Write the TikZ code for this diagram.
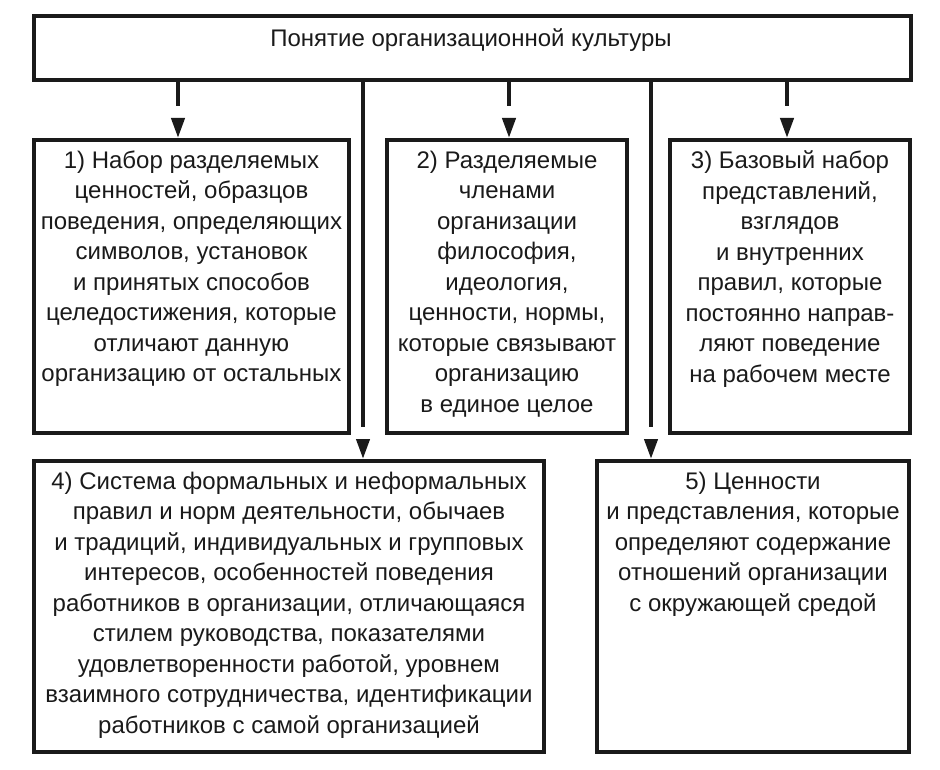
\documentclass[tikz,border=0pt]{standalone}
\usepackage{fontspec}
\setmainfont{Liberation Sans}
\usetikzlibrary{arrows.meta,calc}
\definecolor{ink}{HTML}{1A1A1A}
\begin{document}
\begin{tikzpicture}[x=1pt,y=-1pt,
  box/.style={draw=ink, line width=4pt, anchor=north west, inner sep=0pt},
  txt/.style={align=center, inner sep=0pt, anchor=north, text=ink,
    font=\fontsize{24}{30.5}\selectfont},
  shaft/.style={draw=ink, line width=4pt, shorten >=32pt},
  head/.style={draw=ink, line width=4pt, -{Triangle[length=20pt,width=13pt]}}]
\useasboundingbox (0,0) rectangle (940,770);

% boxes
\node[box, minimum width=877pt, minimum height=64pt] (top) at (32,14) {};
\node[box, minimum width=315pt, minimum height=293pt] (b1) at (32,138) {};
\node[box, minimum width=240pt, minimum height=293pt] (b2) at (385,138) {};
\node[box, minimum width=240pt, minimum height=293pt] (b3) at (668,138) {};
\node[box, minimum width=510pt, minimum height=291pt] (b4) at (32,459) {};
\node[box, minimum width=312pt, minimum height=291pt] (b5) at (595,459) {};

% texts
\node[txt, anchor=base] (topt) at (471,47) {Понятие организационной культуры};
\node[txt] (b1t) at ($(b1.north)+(0,12.5)$) {1) Набор разделяемых\\ценностей, образцов\\поведения, определяющих\\символов, установок\\и принятых способов\\целедостижения, которые\\отличают данную\\организацию от остальных};
\node[txt] (b2t) at ($(b2.north)+(0,12.5)$) {2) Разделяемые\\членами\\организации\\философия,\\идеология,\\ценности, нормы,\\которые связывают\\организацию\\в единое целое};
\node[txt] (b3t) at ($(b3.north)+(0,12.5)$) {3) Базовый набор\\представлений,\\взглядов\\и внутренних\\правил, которые\\постоянно направ-\\ляют поведение\\на рабочем месте};
\node[txt] (b4t) at ($(b4.north)+(0,12.5)$) {4) Система формальных и неформальных\\правил и норм деятельности, обычаев\\и традиций, индивидуальных и групповых\\интересов, особенностей поведения\\работников в организации, отличающаяся\\стилем руководства, показателями\\удовлетворенности работой, уровнем\\взаимного сотрудничества, идентификации\\работников с самой организацией};
\node[txt] (b5t) at ($(b5.north)+(0,12.5)$) {5) Ценности\\и представления, которые\\определяют содержание\\отношений организации\\с окружающей средой};

% connector columns
\coordinate (c1) at (178,0);
\coordinate (c2) at (509,0);
\coordinate (c3) at (787,0);
\coordinate (c4) at (363,0);
\coordinate (c5) at (651,0);

\foreach \c/\b in {c1/b1, c2/b2, c3/b3, c4/b4, c5/b5}{
  \draw[shaft] (\c |- top.south) -- (\c |- \b.north);
  \draw[head] ($(\c |- \b.north)+(0,-20)$) -- (\c |- \b.north);
}
\end{tikzpicture}
\end{document}
